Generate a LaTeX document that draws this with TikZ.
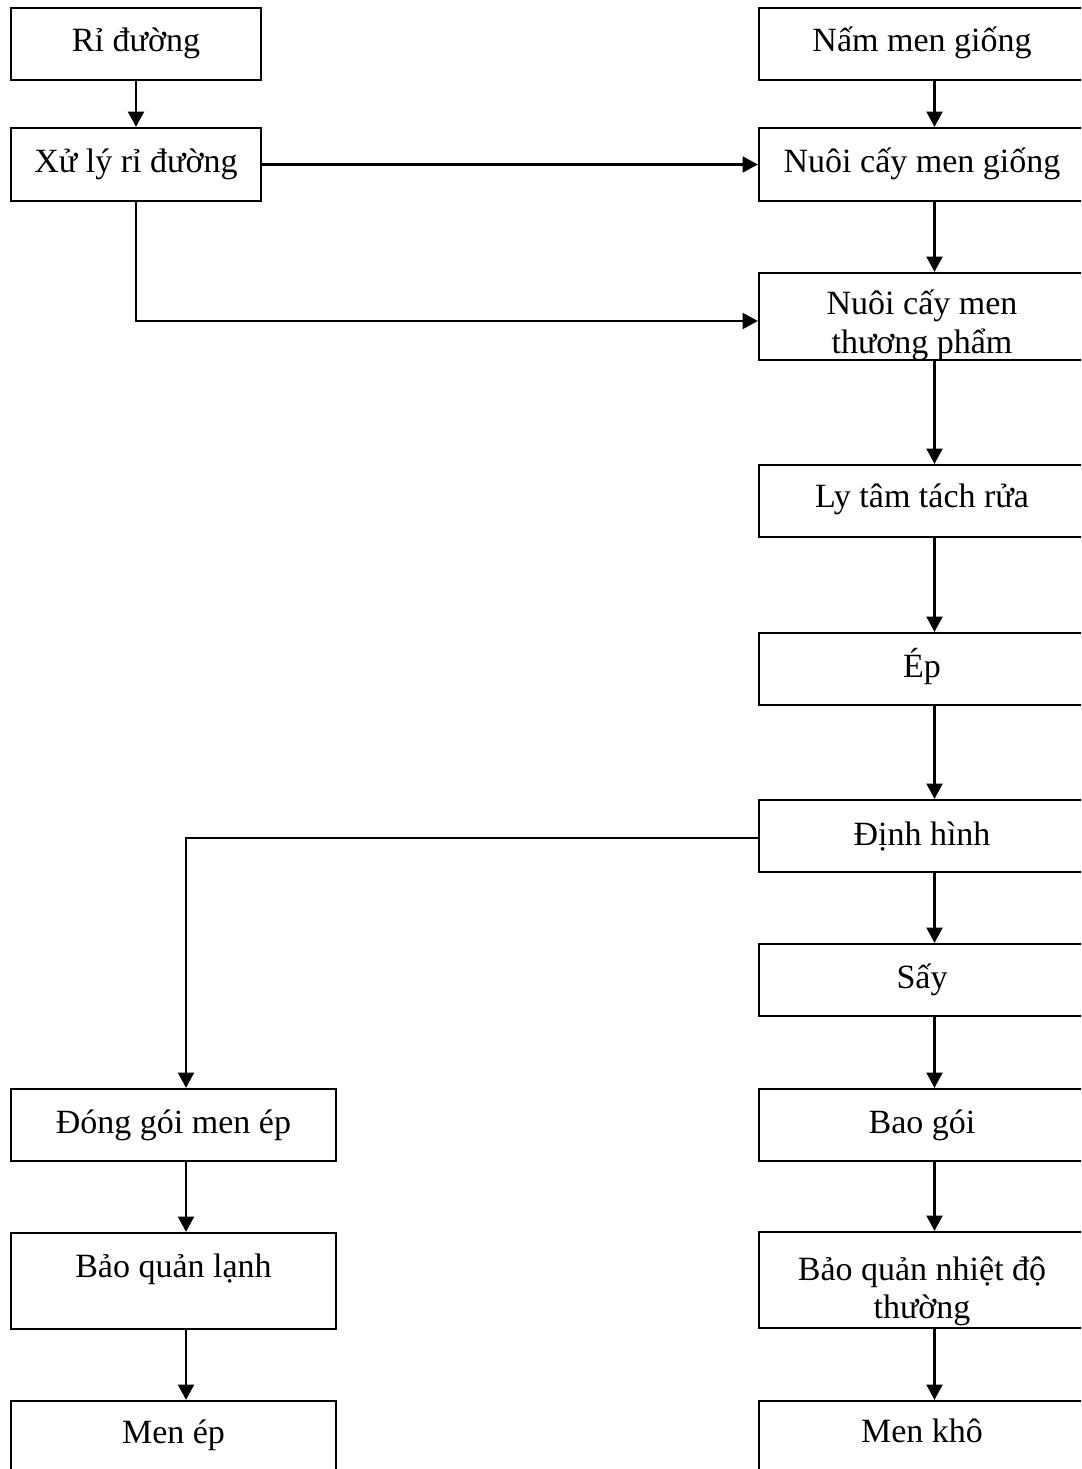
\documentclass[tikz,border=0pt]{standalone}
\usepackage{fontspec}
\setmainfont{Liberation Serif}
\usetikzlibrary{arrows.meta}
\begin{document}
\begin{tikzpicture}[x=0.75pt,y=-0.75pt,
  box/.style={draw, line width=1.7pt, inner sep=0pt, minimum width=244.5pt, minimum height=54pt},
  boxS/.style={box, minimum width=187.5pt},
  txt/.style={font=\fontsize{25.5}{28.5}\selectfont, anchor=base, inner sep=0pt, align=center},
  arr/.style={line width=1.7pt, -{Triangle[length=11.5pt,width=12pt]}},
  ln/.style={line width=1.7pt}]
\useasboundingbox (0,0) rectangle (1081,1469);
\clip (0,0) rectangle (1081,1469);
\fill[white] (0,0) rectangle (1081,1469);
% column coordinates
\coordinate (colR) at (934.5,0);
\coordinate (colL) at (186,0);
\coordinate (h1) at (0,321);
\coordinate (h2) at (0,838);
% boxes
\node[boxS] (rd) at (136,44) {};
\node[boxS, minimum height=54.75pt] (xl) at (136,164.5) {};
\node[box] (nm) at (922,44) {};
\node[box, minimum height=54.75pt] (ncmg) at (922,164.5) {};
\node[box, minimum height=65.25pt] (tp) at (922,316.5) {};
\node[box] (lt) at (922,501) {};
\node[box] (ep) at (922,669) {};
\node[box] (dh) at (922,836) {};
\node[box] (say) at (922,980) {};
\node[box] (bg) at (922,1125) {};
\node[box, minimum height=72pt] (bqn) at (922,1280) {};
\node[box] (mk) at (922,1437) {};
\node[box, minimum width=243.75pt] (dg) at (173.5,1125) {};
\node[box, minimum width=243.75pt, minimum height=72pt] (bql) at (173.5,1281) {};
\node[box, minimum width=243.75pt] (mep) at (173.5,1437) {};
% texts
\node[txt] (rd-t) at (136,52) {Rỉ đường};
\node[txt] (xl-t) at (136,173) {Xử lý rỉ đường};
\node[txt] (nm-t) at (922,52) {Nấm men giống};
\node[txt] (ncmg-t) at (922,173) {Nuôi cấy men giống};
\begin{scope}
\clip (760.5,274.5) rectangle (1083,358.3);
\node[txt] (tp-t) at (922,353) {Nuôi cấy men\\thương phẩm};
\end{scope}
\node[txt] (lt-t) at (922,507) {Ly tâm tách rửa};
\node[txt] (ep-t) at (922,677) {Ép};
\node[txt] (dh-t) at (922,845) {Định hình};
\node[txt] (say-t) at (922,988) {Sấy};
\node[txt] (bg-t) at (922,1133) {Bao gói};
\begin{scope}
\clip (760.5,1233.5) rectangle (1083,1326.3);
\node[txt] (bqn-t) at (922,1318) {Bảo quản nhiệt độ\\thường};
\end{scope}
\node[txt] (mk-t) at (922,1442) {Men khô};
\node[txt] (dg-t) at (173.5,1133) {Đóng gói men ép};
\node[txt] (bql-t) at (173.5,1277) {Bảo quản lạnh};
\node[txt] (mep-t) at (173.5,1443) {Men ép};
% connectors
\draw[arr] (rd.south) -- (xl.north);
\draw[arr] (xl.east) -- (ncmg.west);
\draw[arr] (xl.south) |- (tp.west |- h1);
\draw[arr] (nm.south -| colR) -- (ncmg.north -| colR);
\draw[arr] (ncmg.south -| colR) -- (tp.north -| colR);
\draw[arr] (tp.south -| colR) -- (lt.north -| colR);
\draw[arr] (lt.south -| colR) -- (ep.north -| colR);
\draw[arr] (ep.south -| colR) -- (dh.north -| colR);
\draw[arr] (dh.south -| colR) -- (say.north -| colR);
\draw[arr] (say.south -| colR) -- (bg.north -| colR);
\draw[arr] (bg.south -| colR) -- (bqn.north -| colR);
\draw[arr] (bqn.south -| colR) -- (mk.north -| colR);
\draw[arr] (dh.west |- h2) -| (dg.north -| colL);
\draw[arr] (dg.south -| colL) -- (bql.north -| colL);
\draw[arr] (bql.south -| colL) -- (mep.north -| colL);
\end{tikzpicture}
\end{document}
